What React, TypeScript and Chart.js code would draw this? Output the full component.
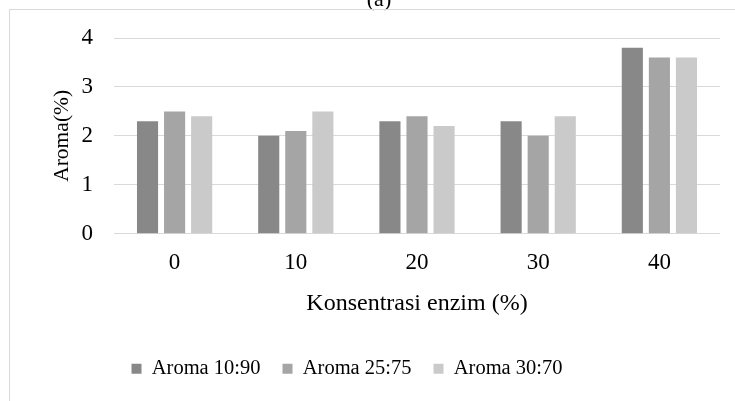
import React, { useEffect, useRef } from "react";
import { Chart, registerables } from "chart.js";

Chart.register(...registerables);

const categories = ["0", "10", "20", "30", "40"];
const seriesNames = ["Aroma 10:90", "Aroma 25:75", "Aroma 30:70"];
const aroma1090 = [2.3, 2.0, 2.3, 2.3, 3.8];
const aroma2575 = [2.5, 2.1, 2.4, 2.0, 3.6];
const aroma3070 = [2.4, 2.5, 2.2, 2.4, 3.6];
const seriesColors = ["#888888", "#a5a5a5", "#cacaca"];
const yTicks = [0, 1, 2, 3, 4];

const FONT = "'Liberation Serif', 'Times New Roman', serif";

const framePlugin = {
  id: "frame",
  afterLayout(chart: any) {
    const lg = chart.legend;
    if (lg) {
      lg.left -= 13;
      lg.right -= 13;
    }
  },
  beforeDraw(chart: any) {
    const ctx = chart.ctx;
    ctx.save();
    ctx.fillStyle = "#ffffff";
    ctx.fillRect(0, 0, chart.width, chart.height);
    ctx.fillStyle = "#000000";
    ctx.font = `22px ${FONT}`;
    ctx.textAlign = "center";
    ctx.textBaseline = "alphabetic";
    ctx.fillText("(a)", 379, 6);
    ctx.strokeStyle = "#d9d9d9";
    ctx.lineWidth = 1;
    ctx.beginPath();
    ctx.moveTo(9, 9.5);
    ctx.lineTo(chart.width, 9.5);
    ctx.moveTo(9.5, 9);
    ctx.lineTo(9.5, chart.height);
    ctx.stroke();
    ctx.restore();
  },
};

export default function App() {
  const ref = useRef<HTMLCanvasElement>(null);
  useEffect(() => {
    if (!ref.current) return;
    const data = [aroma1090, aroma2575, aroma3070];
    const chart = new Chart(ref.current, {
      type: "bar",
      data: {
        labels: categories,
        datasets: seriesNames.map((name, i) => ({
          label: name,
          data: data[i],
          backgroundColor: seriesColors[i],
          borderWidth: 0,
          categoryPercentage: 0.67,
          barPercentage: 0.78,
        })),
      },
      options: {
        responsive: false,
        animation: false,
        devicePixelRatio: 1,
        layout: { padding: { top: 38, left: 0, right: 15, bottom: 12 } },
        plugins: {
          tooltip: { enabled: false },
          title: { display: false },
          legend: {
            position: "bottom",
            labels: {
              boxWidth: 10,
              boxHeight: 10,
              padding: 22,
              color: "#000000",
              font: { family: FONT, size: 20.5 },
            },
          },
        },
        scales: {
          x: {
            grid: { display: false, drawTicks: false },
            border: { display: false },
            ticks: {
              color: "#000000",
              font: { family: FONT, size: 23 },
              padding: 15.5,
            },
            title: {
              display: true,
              text: "Konsentrasi enzim (%)",
              color: "#000000",
              font: { family: FONT, size: 24 },
              padding: { top: 0, bottom: 18.1 },
            },
            afterFit(scale: any) {
              scale.height = 102.8;
            },
          },
          y: {
            min: 0,
            max: 4,
            grid: { color: "#d9d9d9", lineWidth: 1, drawTicks: false },
            border: { display: false },
            afterBuildTicks(scale: any) {
              scale.ticks = yTicks.map((v) => ({ value: v }));
            },
            ticks: {
              color: "#000000",
              font: { family: FONT, size: 23 },
              padding: 21,
            },
            title: {
              display: true,
              text: "Aroma(%)",
              color: "#000000",
              font: { family: FONT, size: 21.5 },
              padding: { top: 49, bottom: 0 },
            },
            afterFit(scale: any) {
              scale.width = 114;
            },
          },
        },
      },
      plugins: [framePlugin],
    });
    return () => chart.destroy();
  }, []);
  return (
    <canvas
      ref={ref}
      width={735}
      height={401}
      style={{ position: "fixed", left: 0, top: 0, width: 735, height: 401 }}
    />
  );
}
